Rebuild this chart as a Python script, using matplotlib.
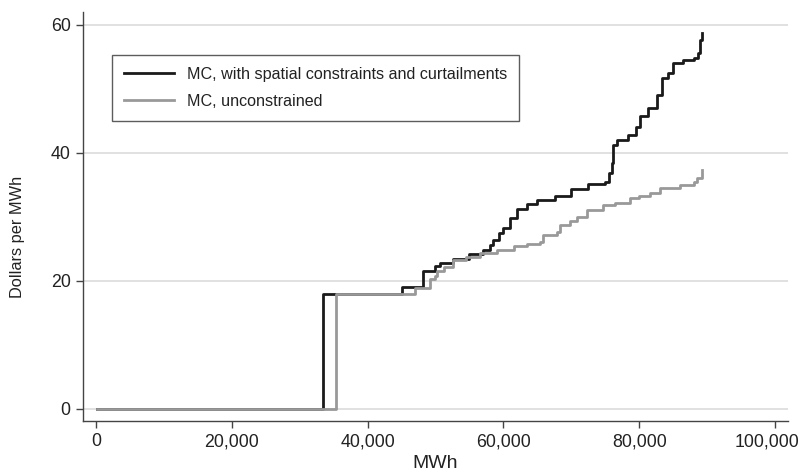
import matplotlib
matplotlib.use("Agg")
import matplotlib.pyplot as plt
import matplotlib.transforms as mtransforms

plt.rcParams['font.family'] = ['Liberation Sans', 'DejaVu Sans']

# Marginal cost curve with spatial constraints and curtailments (MWh, $/MWh)
constrained_mwh = [100, 33450, 45000, 48200, 49900, 50600, 52600, 55000, 57000,
                   58000, 58500, 59300, 60000, 61000, 62000, 63500, 65000, 67600,
                   70000, 72500, 75000, 75500, 76000, 76200, 76700, 78400, 79600,
                   80100, 81300, 82600, 83300, 84300, 85000, 86500, 88000, 88700,
                   88900, 89200]
constrained_price = [0, 18, 19, 21.6, 22.3, 22.8, 23.5, 24.2, 24.9,
                     25.6, 26.4, 27.5, 28.3, 29.8, 31.2, 32.0, 32.6, 33.3,
                     34.4, 35.1, 35.4, 36.9, 38.4, 41.2, 42.0, 42.8, 44.1,
                     45.7, 47.0, 49.1, 51.7, 52.4, 54.0, 54.5, 54.8, 55.6,
                     57.7, 58.7]

# Unconstrained marginal cost curve
unconstrained_mwh = [100, 35280, 47000, 49200, 49900, 50200, 51200, 52600, 54500,
                     56600, 59000, 61500, 63500, 65400, 65900, 67900, 68400, 69800,
                     70800, 72300, 74700, 76500, 78700, 80000, 81600, 83100, 86000,
                     88000, 88500, 89200]
unconstrained_price = [0, 18, 18.9, 20.3, 20.8, 21.6, 22.2, 23.2, 23.8,
                       24.3, 24.9, 25.4, 25.8, 26.1, 27.2, 27.7, 28.8, 29.3,
                       30.0, 31.1, 31.8, 32.2, 32.9, 33.3, 33.7, 34.5, 35.0,
                       35.4, 36.0, 37.3]

labels = ["MC, with spatial constraints and curtailments", "MC, unconstrained"]
x_ticks = [0, 20000, 40000, 60000, 80000, 100000]
y_ticks = [0, 20, 40, 60]

fig = plt.figure(figsize=(8.05, 4.72), dpi=100)
ax = fig.add_axes([83/805, 1 - 421/472, (787.7 - 83)/805, (421 - 12)/472])

ax.plot(constrained_mwh, constrained_price, drawstyle='steps-post',
        color='#1a1a1a', lw=2.0, label=labels[0], zorder=3)
ax.plot(unconstrained_mwh, unconstrained_price, drawstyle='steps-post',
        color='#999999', lw=2.0, label=labels[1], zorder=4)

ax.set_xlim(-1915, 101870)
ax.set_ylim(-1.875, 62.0)
ax.set_xticks(x_ticks)
ax.set_xticklabels([f"{v:,}" for v in x_ticks])
ax.set_yticks(y_ticks)
ax.yaxis.grid(True, color='#d8d8d8', lw=1.1)
ax.set_axisbelow(True)

for s in ['top', 'right']:
    ax.spines[s].set_visible(False)
for s in ['left', 'bottom']:
    ax.spines[s].set_color('#444444')
    ax.spines[s].set_linewidth(1.0)
ax.tick_params(axis='both', direction='out', length=5, width=1.0,
               color='#444444', labelsize=12.8, labelcolor='#222222', pad=4)

# shift the last x tick label slightly left so it stays inside the figure
last = ax.get_xticklabels()[-1]
last.set_transform(last.get_transform() +
                   mtransforms.ScaledTranslation(-8/100, 0, fig.dpi_scale_trans))

ax.set_xlabel("MWh", fontsize=14, color='#222222', labelpad=3)
ax.set_ylabel("Dollars per MWh", fontsize=11.8, color='#222222')
ax.yaxis.set_label_coords(-0.082, 0.45)

leg = ax.legend(loc='upper left', bbox_to_anchor=(112/805, 1 - 55/472),
                bbox_transform=fig.transFigure, fontsize=11.6, frameon=True,
                fancybox=False, handlelength=3.1, handletextpad=0.8,
                borderpad=0.75, labelspacing=0.72, borderaxespad=0)
leg.get_frame().set_edgecolor('#333333')
leg.get_frame().set_linewidth(1.0)
for t in leg.get_texts():
    t.set_color('#222222')

fig.savefig("out.png", dpi=100)
